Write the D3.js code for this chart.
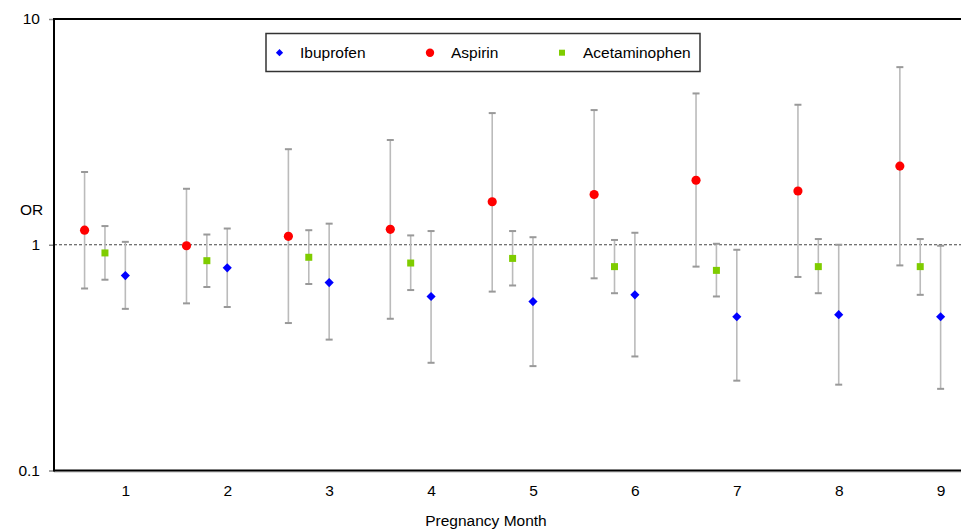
<!DOCTYPE html>
<html><head><meta charset="utf-8">
<script src="https://cdn.jsdelivr.net/npm/d3@7/dist/d3.min.js"></script>
<style>body{margin:0;background:#fff}svg{display:block;font-family:"Liberation Sans",Arial,sans-serif}</style>
</head><body><svg id="c" width="961" height="529"></svg>
<script>
const months = [1,2,3,4,5,6,7,8,9];
const yTicks = [0.1, 1, 10];
const seriesNames = ["Ibuprofen","Aspirin","Acetaminophen"];
const ibuprofenOR  = [0.73,0.79,0.68,0.59,0.56,0.60,0.48,0.49,0.48];
const ibuprofenLo  = [0.52,0.53,0.38,0.30,0.29,0.32,0.25,0.24,0.23];
const ibuprofenHi  = [1.03,1.18,1.24,1.15,1.08,1.13,0.95,1.00,0.99];
const aspirinOR    = [1.16,0.99,1.09,1.17,1.55,1.67,1.93,1.73,2.23];
const aspirinLo    = [0.64,0.55,0.45,0.47,0.62,0.71,0.80,0.72,0.81];
const aspirinHi    = [2.10,1.77,2.65,2.91,3.83,3.95,4.68,4.17,6.12];
const acetOR       = [0.92,0.85,0.88,0.83,0.87,0.80,0.77,0.80,0.80];
const acetLo       = [0.70,0.65,0.67,0.63,0.66,0.61,0.59,0.61,0.60];
const acetHi       = [1.21,1.11,1.16,1.10,1.15,1.05,1.01,1.06,1.06];

const svg = d3.select("#c");
const L=54, R=961, T=19, B=470.5;
const x = d3.scaleLinear().domain([0.3,9.2]).range([L,R]);
const y = d3.scaleLog().domain([0.1,10]).range([B,T]);
const fs = "15.5px";

const series = [
  {name:"Aspirin", off:-0.4, or:aspirinOR, lo:aspirinLo, hi:aspirinHi, sym:d3.symbolCircle, size:66, rot:0, color:"#ff0000"},
  {name:"Acetaminophen", off:-0.2, or:acetOR, lo:acetLo, hi:acetHi, sym:d3.symbolSquare, size:49, rot:0, color:"#7fcc00"},
  {name:"Ibuprofen", off:0, or:ibuprofenOR, lo:ibuprofenLo, hi:ibuprofenHi, sym:d3.symbolSquare, size:42, rot:45, color:"#0000ff"}
];

// dashed reference line at 1
svg.append("line").attr("x1",L).attr("x2",R).attr("y1",y(1)).attr("y2",y(1))
  .attr("stroke","#444").attr("stroke-width",1).attr("stroke-dasharray","3,2");

// error bars & points
series.forEach(s=>{
  const g = svg.append("g");
  months.forEach((m,i)=>{
    const cx = x(m+s.off);
    g.append("line").attr("x1",cx).attr("x2",cx).attr("y1",y(s.lo[i])).attr("y2",y(s.hi[i]))
      .attr("stroke","#bbbbbb").attr("stroke-width",1.6);
    [s.lo[i],s.hi[i]].forEach(v=>{
      g.append("line").attr("x1",cx-3.5).attr("x2",cx+3.5).attr("y1",y(v)).attr("y2",y(v))
        .attr("stroke","#999").attr("stroke-width",2);
    });
  });
  months.forEach((m,i)=>{
    g.append("path").attr("d",d3.symbol().type(s.sym).size(s.size)())
      .attr("transform",`translate(${x(m+s.off)},${y(s.or[i])}) rotate(${s.rot})`).attr("fill",s.color);
  });
});

// axes
const yAxis = svg.append("g").attr("transform",`translate(${L},0)`)
  .call(d3.axisLeft(y).tickValues(yTicks).tickFormat(d=>d3.format("")(d)).tickSize(5).tickPadding(9));
yAxis.select(".domain").remove();
yAxis.selectAll(".tick line").attr("stroke","#888").attr("stroke-width",1.5);
yAxis.selectAll(".tick text").attr("font-size",fs).attr("fill","#000").attr("font-family","Liberation Sans, Arial, sans-serif");

const xAxis = svg.append("g").attr("transform",`translate(0,${B})`)
  .call(d3.axisBottom(x).tickValues(months).tickFormat(d3.format("d")).tickSize(0).tickPadding(14));
xAxis.select(".domain").remove();
xAxis.selectAll(".tick text").attr("font-size",fs).attr("fill","#000").attr("font-family","Liberation Sans, Arial, sans-serif");

// frame lines
svg.append("line").attr("x1",L).attr("x2",R).attr("y1",B+1.5).attr("y2",B+1.5).attr("stroke","#bbb").attr("stroke-width",1);
svg.append("line").attr("x1",L).attr("x2",R).attr("y1",T).attr("y2",T).attr("stroke","#000").attr("stroke-width",2);
svg.append("line").attr("x1",L).attr("x2",R).attr("y1",B).attr("y2",B).attr("stroke","#000").attr("stroke-width",2);
svg.append("line").attr("x1",L).attr("x2",L).attr("y1",T-1).attr("y2",B+1).attr("stroke","#000").attr("stroke-width",2);

// axis titles
svg.append("text").attr("x",20).attr("y",215).attr("font-size",fs).text("OR");
svg.append("text").attr("x",486).attr("y",526).attr("text-anchor","middle").attr("font-size",fs).text("Pregnancy Month");

// legend
const lg = svg.append("g");
lg.append("rect").attr("x",266).attr("y",33.5).attr("width",434).attr("height",38)
  .attr("fill","#fff").attr("stroke","#333").attr("stroke-width",1.5);
const legendItems = [
  {name:seriesNames[0], mx:279.5, tx:300, sym:d3.symbolSquare, size:26, rot:45, color:"#0000ff"},
  {name:seriesNames[1], mx:430, tx:451, sym:d3.symbolCircle, size:55, rot:0, color:"#ff0000"},
  {name:seriesNames[2], mx:562, tx:583, sym:d3.symbolSquare, size:36, rot:0, color:"#7fcc00"}
];
legendItems.forEach(it=>{
  lg.append("path").attr("d",d3.symbol().type(it.sym).size(it.size)()).attr("transform",`translate(${it.mx},52.7) rotate(${it.rot})`).attr("fill",it.color);
  lg.append("text").attr("x",it.tx).attr("y",58.3).attr("font-size",fs).text(it.name);
});
</script></body></html>
